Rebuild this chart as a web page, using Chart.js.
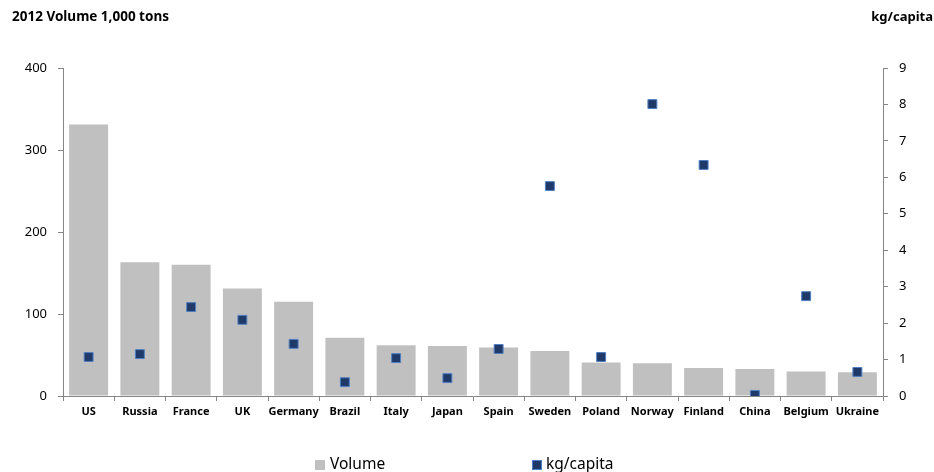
<!DOCTYPE html>
<html>
<head>
<meta charset="utf-8">
<script src="https://cdn.jsdelivr.net/npm/chart.js@4"></script>
<style>
  html, body { margin: 0; padding: 0; background: #fff; }
  #chart { display: block; }
</style>
</head>
<body>
<canvas id="chart" width="934" height="472"></canvas>
<script>
const categories = ['US', 'Russia', 'France', 'UK', 'Germany', 'Brazil', 'Italy', 'Japan',
  'Spain', 'Sweden', 'Poland', 'Norway', 'Finland', 'China', 'Belgium', 'Ukraine'];
// 2012 volume, 1,000 tons
const volume = [331, 163, 160, 131, 115, 71, 62, 61, 59, 55, 41, 40, 34, 33, 30, 29];
// consumption per head, kg
const kgPerCapita = [1.07, 1.15, 2.44, 2.09, 1.43, 0.38, 1.04, 0.49, 1.29, 5.76, 1.07, 8.01, 6.34, 0.03, 2.74, 0.66];
const volumeAxis = { min: 0, max: 400, step: 100 };
const kgAxis = { min: 0, max: 9, step: 1 };

const FONT = "'Noto Sans', sans-serif";
const AXIS_GREY = '#868686';
const BAR_GREY = '#c0c0c0';
const NAVY = '#1f3a68';
const NAVY_EDGE = '#4f7fc4';

const headerAndLegend = {
  id: 'headerAndLegend',
  afterDraw(chart) {
    const { ctx } = chart;
    ctx.save();
    ctx.fillStyle = '#000';
    ctx.textBaseline = 'middle';
    ctx.font = `bold 13.5px ${FONT}`;
    ctx.textAlign = 'left';
    ctx.fillText('2012 Volume 1,000 tons', 12, 17);
    ctx.font = `bold 13px ${FONT}`;
    ctx.textAlign = 'right';
    ctx.fillText('kg/capita', 933, 17);

    // legend
    ctx.textAlign = 'left';
    ctx.font = `15.5px ${FONT}`;
    ctx.fillStyle = BAR_GREY;
    ctx.fillRect(315, 460, 10, 10);
    ctx.fillStyle = '#000';
    ctx.fillText('Volume', 330, 465);

    ctx.fillStyle = NAVY;
    ctx.fillRect(532, 460, 10, 10);
    ctx.strokeStyle = NAVY_EDGE;
    ctx.lineWidth = 1;
    ctx.strokeRect(532.5, 460.5, 9, 9);
    ctx.fillStyle = '#000';
    ctx.fillText('kg/capita', 546, 465);
    ctx.restore();
  }
};

new Chart(document.getElementById('chart'), {
  type: 'bar',
  data: {
    labels: categories,
    datasets: [
      {
        type: 'line',
        label: 'kg/capita',
        data: kgPerCapita,
        yAxisID: 'y1',
        showLine: false,
        pointStyle: 'rect',
        pointRadius: 6.3,
        pointBackgroundColor: NAVY,
        pointBorderColor: NAVY_EDGE,
        pointBorderWidth: 1,
        order: 0
      },
      {
        label: 'Volume',
        data: volume,
        yAxisID: 'y',
        backgroundColor: BAR_GREY,
        categoryPercentage: 1,
        barPercentage: 0.76,
        order: 1
      }
    ]
  },
  options: {
    responsive: false,
    animation: false,
    layout: { padding: { top: 68, left: 0, right: 0, bottom: 0 } },
    plugins: {
      legend: { display: false },
      tooltip: { enabled: false }
    },
    scales: {
      x: {
        offset: true,
        grid: { offset: true, drawOnChartArea: false, drawTicks: true, tickLength: 5, color: AXIS_GREY },
        border: { display: true, color: AXIS_GREY },
        ticks: { color: '#000', font: { family: FONT, size: 11, weight: 'bold' }, padding: 4, maxRotation: 0, autoSkip: false },
        afterFit(scale) { scale.height = 76; }
      },
      y: {
        position: 'left',
        min: volumeAxis.min,
        max: volumeAxis.max,
        grid: { drawOnChartArea: false, drawTicks: true, tickLength: 5, color: AXIS_GREY },
        border: { display: true, color: AXIS_GREY },
        ticks: { stepSize: volumeAxis.step, color: '#000', font: { family: FONT, size: 13 }, padding: 11 },
        afterFit(scale) { scale.width = 63; }
      },
      y1: {
        position: 'right',
        min: kgAxis.min,
        max: kgAxis.max,
        grid: { drawOnChartArea: false, drawTicks: true, tickLength: 5, color: AXIS_GREY },
        border: { display: true, color: AXIS_GREY },
        ticks: { stepSize: kgAxis.step, color: '#000', font: { family: FONT, size: 13 }, padding: 11 },
        afterFit(scale) { scale.width = 51; }
      }
    }
  },
  plugins: [headerAndLegend]
});
</script>
</body>
</html>
